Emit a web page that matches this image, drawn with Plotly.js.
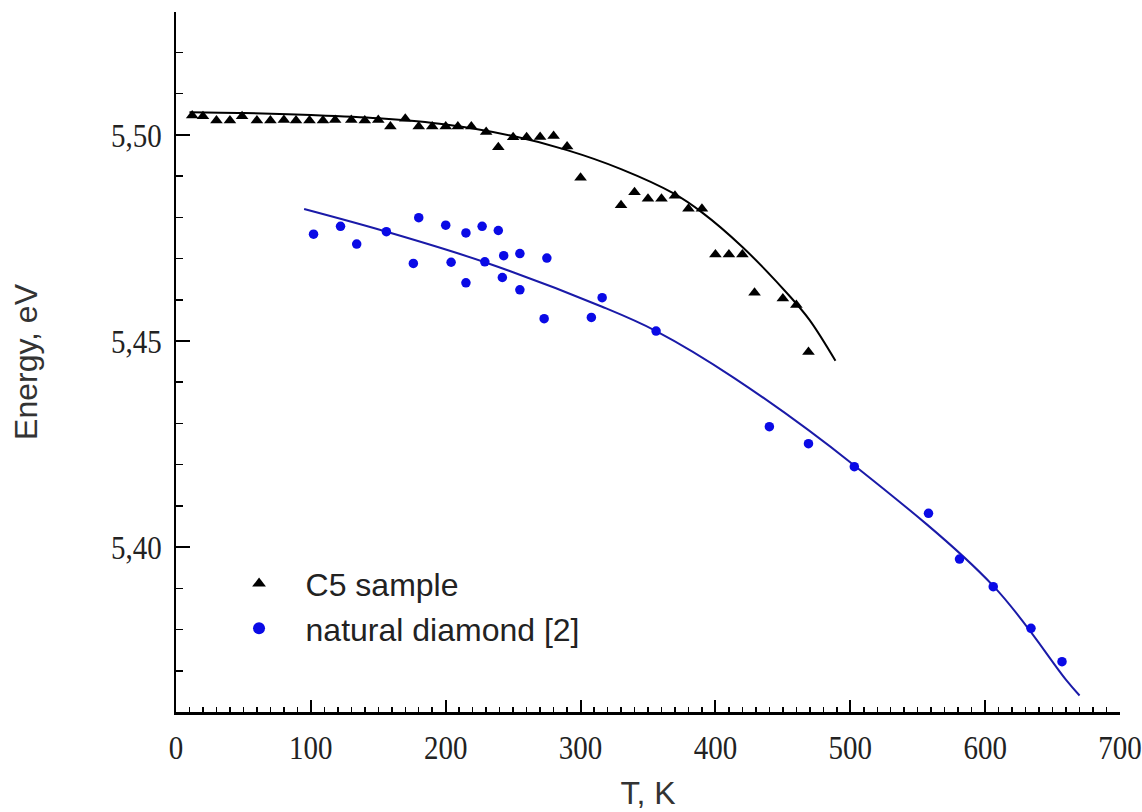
<!DOCTYPE html>
<html>
<head>
<meta charset="utf-8">
<script src="https://cdn.plot.ly/plotly-3.0.1.min.js"></script>
<style>html,body{margin:0;padding:0;background:#fff;}#chart{width:1142px;height:812px;}</style>
</head>
<body>
<div id="chart"></div>
<script>
// C5 sample (triangles)
const c5T = [12,20,30,40,49,60,70,80,89,99,109,118,130,140,150,159,170,180,190,200,209,219,230,239,250,260,270,280,290,300,330,340,350,360,370,380,390,400,410,420,429,450,460,469];
const c5E = [5.5047,5.5045,5.5035,5.5035,5.5045,5.5035,5.5035,5.5036,5.5035,5.5035,5.5035,5.5036,5.5036,5.5035,5.5036,5.5020,5.5039,5.5020,5.5020,5.5020,5.5020,5.5020,5.5007,5.4970,5.4994,5.4994,5.4995,5.4997,5.4972,5.4896,5.4829,5.4861,5.4845,5.4845,5.4852,5.4821,5.4821,5.4710,5.4710,5.4710,5.4617,5.4603,5.4587,5.4473];
// C5 fit curve
const c5FitT = [10,50,100,150,200,250,290,330,369,390,420,455,470,489];
const c5FitE = [5.5055,5.5053,5.5048,5.5040,5.5025,5.4997,5.4963,5.4917,5.4858,5.4812,5.4728,5.4609,5.4550,5.4452];
// natural diamond [2] (circles)
const natT = [102,122,134,156,176,180,200,204,215,215,227,229,239,242,243,255,255,273,275,308,316,356,440,469,503,558,581,606,634,657];
const natE = [5.4759,5.4778,5.4735,5.4765,5.4688,5.4799,5.4781,5.4691,5.4762,5.4641,5.4778,5.4692,5.4768,5.4654,5.4707,5.4712,5.4624,5.4554,5.4701,5.4557,5.4605,5.4524,5.4292,5.4251,5.4195,5.4082,5.3971,5.3904,5.3803,5.3722];
// natural diamond fit curve
const natFitT = [95,156,229,316,356,414,503,606,660,670];
const natFitE = [5.4820,5.4765,5.4691,5.4583,5.4524,5.4410,5.4198,5.3906,5.3678,5.3640];

const names = ['C5 sample','natural diamond [2]'];
const xTitle = 'T, K';
const yTitle = 'Energy, eV';

const traces = [
  {x:c5FitT, y:c5FitE, mode:'lines', line:{color:'#000000', width:2, shape:'spline', smoothing:1}, showlegend:false, hoverinfo:'skip'},
  {x:natFitT, y:natFitE, mode:'lines', line:{color:'#1a1aa8', width:2, shape:'spline', smoothing:1}, showlegend:false, hoverinfo:'skip'},
  {x:c5T, y:c5E, mode:'markers', name:names[0], marker:{symbol:'triangle-up', size:11, color:'#000000'}},
  {x:natT, y:natE, mode:'markers', name:names[1], marker:{symbol:'circle', size:9.5, color:'#0a0ae6'}}
];

const tickFont = {family:'"Liberation Serif", "Times New Roman", serif', size:29, color:'#222'};
const titleFont = {family:'"Liberation Sans", Arial, sans-serif', size:32, color:'#333'};

const layout = {
  width:1142, height:812,
  margin:{l:176, r:22, t:12, b:100},
  paper_bgcolor:'#ffffff', plot_bgcolor:'#ffffff',
  separators:', ',
  showlegend:true,
  legend:{x:0.0387, y:0.151, xanchor:'left', yanchor:'middle', bgcolor:'rgba(0,0,0,0)', borderwidth:0, itemwidth:83,
          font:{family:'"Liberation Sans", Arial, sans-serif', size:32, color:'#222'}, itemsizing:'constant', tracegroupgap:0},
  xaxis:{range:[0,700], showgrid:false, zeroline:false, showline:true, linecolor:'#000', linewidth:2.5,
         ticks:'inside', ticklen:12, tickwidth:2, tickcolor:'#000', dtick:100, tick0:0,
         minor:{ticks:'inside', dtick:10, ticklen:5, tickwidth:1.5, tickcolor:'#000', showgrid:false},
         tickfont:tickFont, ticklabelstandoff:8,
         title:{text:xTitle, font:titleFont, standoff:20}},
  yaxis:{range:[5.36,5.5298], showgrid:false, zeroline:false, showline:true, linecolor:'#000', linewidth:2.5,
         ticks:'inside', ticklen:14, tickwidth:2, tickcolor:'#000', dtick:0.05, tick0:5.40, tickformat:'.2f',
         minor:{ticks:'inside', dtick:0.01, ticklen:7, tickwidth:1.5, tickcolor:'#000', showgrid:false},
         tickfont:tickFont, ticklabelstandoff:6,
         title:{text:yTitle, font:titleFont, standoff:64}}
};

Plotly.newPlot('chart', traces, layout, {displayModeBar:false, staticPlot:true}).then(function(gd){
  // the reference tick labels are drawn slightly taller than wide
  gd.querySelectorAll('.xtick text, .ytick text').forEach(function(t){
    const b = t.getBBox();
    const cy = b.y + b.height/2;
    const tr = t.getAttribute('transform') || '';
    t.setAttribute('transform', tr + ' translate(0,' + cy + ') scale(1,1.18) translate(0,' + (-cy) + ')');
  });
});
</script>
</body>
</html>
